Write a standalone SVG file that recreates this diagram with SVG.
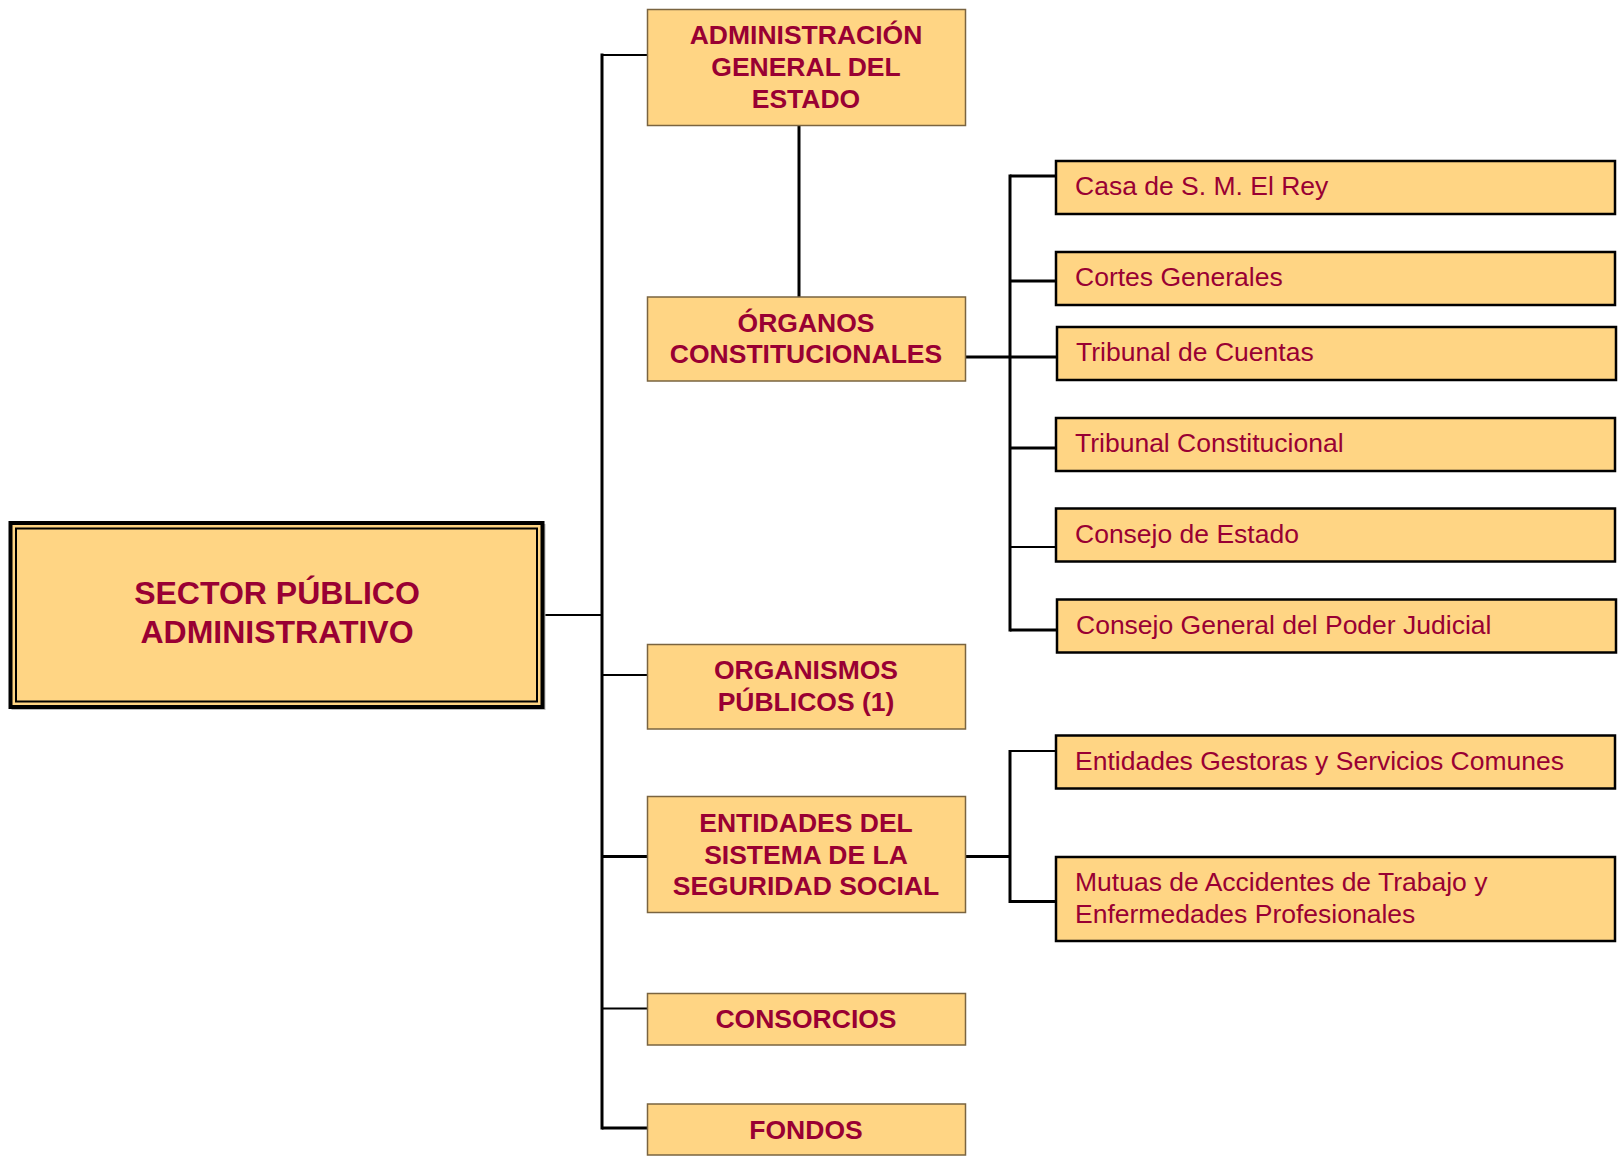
<svg xmlns="http://www.w3.org/2000/svg" width="1620" height="1161" viewBox="0 0 1620 1161">
<style>
.b{fill:#FFD584;stroke:#7a6440;stroke-width:1.5}
.r{fill:#FFD584;stroke:#000;stroke-width:2.5}
.tb{font-family:"Liberation Sans",Arial,sans-serif;font-weight:bold;font-size:26.5px;fill:#990033;text-anchor:middle}
.tr{font-family:"Liberation Sans",Arial,sans-serif;font-size:26.5px;fill:#990033}
.c{stroke:#000;stroke-width:3;fill:none}
.c2{stroke:#000;stroke-width:2;fill:none}
</style>
<rect width="1620" height="1161" fill="#fff"/>
<g id="connectors">
<line class="c" x1="602" y1="53.5" x2="602" y2="1129.5"/>
<line class="c2" x1="544" y1="615" x2="602" y2="615"/>
<line class="c2" x1="602" y1="55" x2="648" y2="55"/>
<line class="c" x1="799" y1="125" x2="799" y2="297"/>
<line class="c2" x1="602" y1="675" x2="648" y2="675"/>
<line class="c" x1="602" y1="856.5" x2="648" y2="856.5"/>
<line class="c2" x1="602" y1="1008.5" x2="648" y2="1008.5"/>
<line class="c" x1="602" y1="1128" x2="648" y2="1128"/>
<line class="c" x1="965" y1="357" x2="1056" y2="357"/>
<line class="c" x1="1010" y1="174.5" x2="1010" y2="631.5"/>
<line class="c" x1="1010" y1="176" x2="1056" y2="176"/>
<line class="c" x1="1010" y1="281" x2="1056" y2="281"/>
<line class="c" x1="1010" y1="448" x2="1056" y2="448"/>
<line class="c2" x1="1010" y1="547" x2="1056" y2="547"/>
<line class="c" x1="1010" y1="630" x2="1056" y2="630"/>
<line class="c" x1="965" y1="856.5" x2="1010" y2="856.5"/>
<line class="c" x1="1010" y1="750" x2="1010" y2="903"/>
<line class="c2" x1="1010" y1="751" x2="1056" y2="751"/>
<line class="c" x1="1010" y1="901.5" x2="1056" y2="901.5"/>
</g>
<g id="sector">
<rect x="11.5" y="524" width="534" height="186" fill="#bbb"/>
<rect x="10.5" y="523" width="532" height="184" fill="#FFD584" stroke="#000" stroke-width="4"/>
<rect x="16" y="528.5" width="521" height="173" fill="none" stroke="#000" stroke-width="2"/>
<text class="tb" x="277" y="604" style="font-size:32px">SECTOR PÚBLICO</text>
<text class="tb" x="277" y="642.5" style="font-size:32px">ADMINISTRATIVO</text>
</g>
<g id="age">
<rect class="b" x="647.5" y="9.5" width="318" height="116"/>
<text class="tb" x="806" y="44">ADMINISTRACIÓN</text>
<text class="tb" x="806" y="76">GENERAL DEL</text>
<text class="tb" x="806" y="108">ESTADO</text>
</g>
<g id="organos">
<rect class="b" x="647.5" y="297" width="318" height="84"/>
<text class="tb" x="806" y="332">ÓRGANOS</text>
<text class="tb" x="806" y="363">CONSTITUCIONALES</text>
</g>
<g id="organismos">
<rect class="b" x="647.5" y="644.5" width="318" height="84.5"/>
<text class="tb" x="806" y="678.5">ORGANISMOS</text>
<text class="tb" x="806" y="710.5">PÚBLICOS (1)</text>
</g>
<g id="entidades">
<rect class="b" x="647.5" y="796.5" width="318" height="116"/>
<text class="tb" x="806" y="832">ENTIDADES DEL</text>
<text class="tb" x="806" y="863.5">SISTEMA DE LA</text>
<text class="tb" x="806" y="895">SEGURIDAD SOCIAL</text>
</g>
<g id="consorcios">
<rect class="b" x="647.5" y="993.5" width="318" height="51.5"/>
<text class="tb" x="806" y="1028">CONSORCIOS</text>
</g>
<g id="fondos">
<rect class="b" x="647.5" y="1104" width="318" height="51"/>
<text class="tb" x="806" y="1138.5">FONDOS</text>
</g>
<g id="casa">
<rect class="r" x="1056" y="161" width="559" height="53"/>
<text class="tr" x="1075" y="195">Casa de S. M. El Rey</text>
</g>
<g id="cortes">
<rect class="r" x="1056" y="252" width="559" height="53"/>
<text class="tr" x="1075" y="286">Cortes Generales</text>
</g>
<g id="tcuentas">
<rect class="r" x="1057" y="327" width="559" height="53"/>
<text class="tr" x="1076" y="361">Tribunal de Cuentas</text>
</g>
<g id="tconst">
<rect class="r" x="1056" y="418" width="559" height="53"/>
<text class="tr" x="1075" y="452">Tribunal Constitucional</text>
</g>
<g id="cestado">
<rect class="r" x="1056" y="508.5" width="559" height="53"/>
<text class="tr" x="1075" y="542.5">Consejo de Estado</text>
</g>
<g id="cgpj">
<rect class="r" x="1057" y="599.5" width="559" height="53"/>
<text class="tr" x="1076" y="633.5">Consejo General del Poder Judicial</text>
</g>
<g id="gestoras">
<rect class="r" x="1056" y="735.5" width="559" height="53"/>
<text class="tr" x="1075" y="770">Entidades Gestoras y Servicios Comunes</text>
</g>
<g id="mutuas">
<rect class="r" x="1056" y="857" width="559" height="84"/>
<text class="tr" x="1075" y="891">Mutuas de Accidentes de Trabajo y</text>
<text class="tr" x="1075" y="923">Enfermedades Profesionales</text>
</g>
</svg>
